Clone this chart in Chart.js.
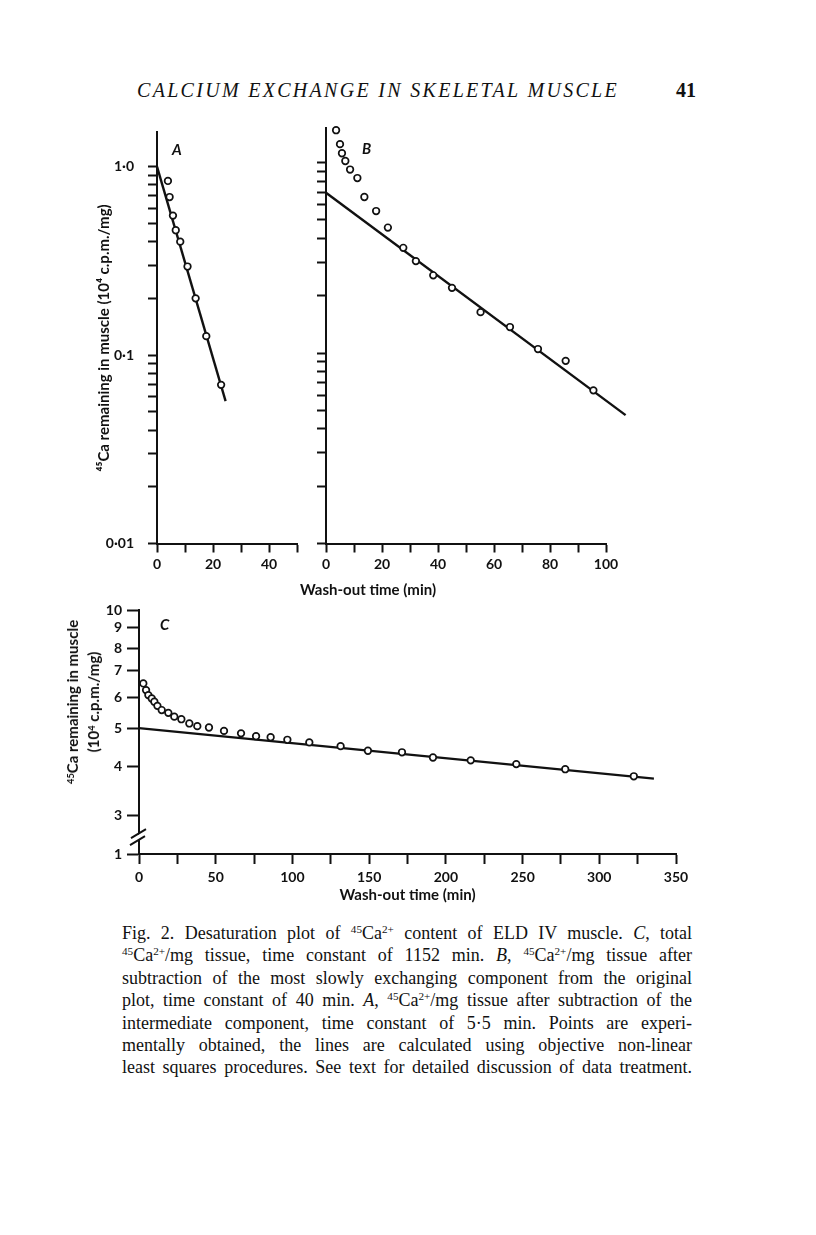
<!DOCTYPE html>
<html>
<head>
<meta charset="utf-8">
<title>Fig. 2 – Desaturation of 45Ca from ELD IV muscle</title>
<script src="https://cdn.jsdelivr.net/npm/chart.js@4.4.1/dist/chart.umd.min.js"></script>
<style>
  body { margin: 0; background: #fff; }
  #page { position: relative; width: 816px; height: 1235px; overflow: hidden; background: #fff; color: #111; }
  #page canvas { position: absolute; }
  .sans { position: absolute; font-family: Lato, "Open Sans", sans-serif; font-weight: bold; color: #111; white-space: nowrap; }
  .panel { font-style: italic; font-size: 15px; }
  #ytitleC { left: 83px; top: 702px; font-size: 15px; line-height: 21px; text-align: center;
             transform: translate(-50%, -50%) rotate(-90deg); }
  #ytitleC sup { font-size: 0.62em; vertical-align: 0.45em; line-height: 0; }
  #head { position: absolute; left: 137px; top: 79px; font-family: "Liberation Serif", serif; font-style: italic; font-size: 20px; letter-spacing: 2.3px; color: #111; white-space: nowrap; }
  #folio { position: absolute; left: 676px; top: 79px; font-family: "Liberation Serif", serif; font-weight: bold; font-size: 20px; color: #111; }
  #caption { position: absolute; left: 122px; top: 922px; width: 570px; font-family: "Liberation Serif", serif; font-size: 18px; line-height: 22.4px; color: #111; }
  #caption div { text-align: justify; text-align-last: justify; }
  #caption sup { font-size: 0.62em; vertical-align: 0.5em; line-height: 0; }
</style>
</head>
<body>
<div id="page">
  <div id="head">CALCIUM EXCHANGE IN SKELETAL MUSCLE</div>
  <div id="folio">41</div>

  <canvas id="chartA" width="250" height="480" style="left:60px; top:110px"></canvas>
  <canvas id="chartB" width="330" height="480" style="left:310px; top:110px"></canvas>
  <canvas id="chartC" width="690" height="320" style="left:20px; top:590px"></canvas>

  <span class="sans panel" style="left:172px; top:140px">A</span>
  <span class="sans panel" style="left:362px; top:139px">B</span>
  <span class="sans panel" style="left:160px; top:615px">C</span>
  <span class="sans" style="left:300px; top:580px; font-size:15px">Wash-out time (min)</span>
  <div class="sans" id="ytitleC"><sup>45</sup>Ca remaining in muscle<br>(10<sup>4</sup> c.p.m./mg)</div>

  <div id="caption">
    <div>Fig. 2. Desaturation plot of <sup>45</sup>Ca<sup>2+</sup> content of ELD IV muscle. <i>C</i>, total</div>
    <div><sup>45</sup>Ca<sup>2+</sup>/mg tissue, time constant of 1152 min. <i>B</i>, <sup>45</sup>Ca<sup>2+</sup>/mg tissue after</div>
    <div>subtraction of the most slowly exchanging component from the original</div>
    <div>plot, time constant of 40 min. <i>A</i>, <sup>45</sup>Ca<sup>2+</sup>/mg tissue after subtraction of the</div>
    <div>intermediate component, time constant of 5·5 min. Points are experi-</div>
    <div>mentally obtained, the lines are calculated using objective non-linear</div>
    <div>least squares procedures. See text for detailed discussion of data treatment.</div>
  </div>
</div>

<script>
// ─── Data ───────────────────────────────────────────────────────────────────

// A: fast component (10^4 c.p.m./mg) vs wash-out time (min)
const aTime  = [3.9, 4.5, 5.7, 6.7, 8.3, 10.9, 13.8, 17.6, 22.9];
const aCount = [0.84, 0.69, 0.55, 0.46, 0.40, 0.295, 0.20, 0.126, 0.0695];
const aFitTime  = [0, 24.5];
const aFitCount = [1.0, 0.057];

// B: intermediate component
const bTime  = [3.6, 5.0, 5.7, 6.9, 8.6, 11.2, 13.7, 17.9, 22.1, 27.6, 32.1, 38.3, 45.0, 55.2, 65.7, 75.7, 85.6, 95.5];
const bCount = [1.48, 1.25, 1.12, 1.02, 0.92, 0.83, 0.66, 0.557, 0.456, 0.357, 0.304, 0.256, 0.220, 0.164, 0.137, 0.105, 0.091, 0.0637];
const bFitTime  = [0, 107];
const bFitCount = [0.695, 0.0472];

// C: total 45Ca
const cTime  = [2.8, 4.6, 6.1, 8.3, 10, 12, 14.8, 19.1, 23, 27.6, 32.8, 38, 45.6, 55.4, 66.5, 76.3, 85.8, 96.7,
                111, 131.4, 149.2, 171.4, 191.6, 216.2, 245.9, 277.8, 322.5];
const cCount = [6.50, 6.25, 6.07, 5.95, 5.84, 5.70, 5.56, 5.47, 5.35, 5.27, 5.14, 5.06, 5.02, 4.92, 4.85, 4.77, 4.74, 4.67,
                4.60, 4.50, 4.38, 4.34, 4.21, 4.14, 4.05, 3.93, 3.77];
const cFitTime  = [0, 335.6];
const cFitCount = [5.0, 3.72];

// Axes
const abLogTicks = [0.01, 0.02, 0.03, 0.04, 0.05, 0.06, 0.07, 0.08, 0.09,
                    0.1, 0.2, 0.3, 0.4, 0.5, 0.6, 0.7, 0.8, 0.9, 1.0];
const abLogLabels = { 0.01: '0·01', 0.1: '0·1', 1: '1·0' };
const abYMax = 1.52;
const aXMax = 50, bXMax = 100, abXStep = 10, abXLabelEvery = 20;

const cYTicks = [3, 4, 5, 6, 7, 8, 9, 10];
const cYBreakMin = 2.39;      // bottom of the broken axis
const cYBreakLabel = '1';
const cXMax = 350, cXStep = 25, cXLabelEvery = 50;

const yTitleAB = '⁴⁵Ca remaining in muscle (10⁴ c.p.m./mg)';
const xTitleC  = 'Wash-out time (min)';

// ─── Helpers ─────────────────────────────────────────────────────────────────

const INK = '#111';
const FONT = 'Lato, "Open Sans", sans-serif';

const toXY = (xs, ys) => xs.map((x, i) => ({ x, y: ys[i] }));

function pointSet(xs, ys) {
  return {
    data: toXY(xs, ys),
    pointStyle: 'circle',
    pointRadius: 3.3,
    pointBorderWidth: 1.7,
    pointBorderColor: INK,
    pointBackgroundColor: '#fff',
    showLine: false,
    clip: false,
  };
}

function fitLine(xs, ys) {
  return {
    data: toXY(xs, ys),
    showLine: true,
    borderColor: INK,
    borderWidth: 2.4,
    pointRadius: 0,
    clip: false,
  };
}

function tickFont(size) { return { family: FONT, size, weight: 'bold' }; }

// axis break (//) on panel C
const axisBreak = {
  id: 'axisBreak',
  afterDraw(chart, args, opts) {
    if (!opts || opts.at == null) return;
    const ctx = chart.ctx;
    const x = chart.chartArea.left;
    const y = chart.scales.y.getPixelForValue(opts.at);
    ctx.save();
    ctx.fillStyle = '#fff';
    ctx.beginPath();
    ctx.moveTo(x - 6, y + 5); ctx.lineTo(x + 6, y - 3);
    ctx.lineTo(x + 6, y + 3); ctx.lineTo(x - 6, y + 11);
    ctx.closePath(); ctx.fill();
    ctx.strokeStyle = INK; ctx.lineWidth = 2;
    ctx.beginPath();
    ctx.moveTo(x - 8, y + 5);  ctx.lineTo(x + 7, y - 4);
    ctx.moveTo(x - 9, y + 12); ctx.lineTo(x + 6, y + 3);
    ctx.stroke();
    ctx.restore();
  }
};

function makePanel(id, cfg) {
  return new Chart(document.getElementById(id), {
    type: 'scatter',
    data: { datasets: cfg.datasets },
    plugins: [axisBreak],
    options: {
      responsive: false,
      animation: false,
      events: [],
      layout: { padding: cfg.padding },
      plugins: {
        legend: { display: false },
        tooltip: { enabled: false },
        axisBreak: cfg.axisBreak || {},
      },
      scales: {
        x: {
          type: 'linear',
          min: 0,
          max: cfg.xMax,
          afterFit: s => { s.height = cfg.xHeight; },
          afterBuildTicks: s => {
            const t = [];
            for (let v = 0; v <= cfg.xMax; v += cfg.xStep) t.push({ value: v });
            s.ticks = t;
          },
          ticks: {
            color: INK,
            font: tickFont(14),
            padding: cfg.xTickPad,
            autoSkip: false,
            maxRotation: 0,
            callback: v => (v % cfg.xLabelEvery === 0 ? String(v) : ''),
          },
          grid: { drawOnChartArea: false, tickLength: cfg.xTickLen, tickWidth: 2, tickColor: INK },
          border: { color: INK, width: 2 },
          title: cfg.xTitle || { display: false },
        },
        y: {
          type: 'logarithmic',
          min: cfg.yMin,
          max: cfg.yMax,
          afterFit: s => { s.width = cfg.yWidth; },
          afterBuildTicks: s => { s.ticks = cfg.yTicks.map(v => ({ value: v })); },
          ticks: {
            display: cfg.yLabels !== false,
            color: INK,
            font: tickFont(14),
            padding: cfg.yTickPad,
            autoSkip: false,
            callback: cfg.yLabel,
          },
          grid: { drawOnChartArea: false, tickLength: cfg.yTickLen, tickWidth: 2, tickColor: INK },
          border: { color: INK, width: 2 },
          title: cfg.yTitle || { display: false },
        },
      },
    },
  });
}

// ─── Panels ──────────────────────────────────────────────────────────────────

makePanel('chartA', {
  datasets: [pointSet(aTime, aCount), fitLine(aFitTime, aFitCount)],
  padding: { top: 18, right: 13, bottom: 0, left: 0 },
  xMax: aXMax, xStep: abXStep, xLabelEvery: abXLabelEvery,
  xHeight: 46.5, xTickLen: 9, xTickPad: 4,
  yMin: 0.01, yMax: abYMax, yTicks: abLogTicks,
  yWidth: 97, yTickLen: 9, yTickPad: 14,
  yLabel: v => abLogLabels[v] || '',
  yTitle: {
    display: true, text: yTitleAB, color: INK,
    font: { family: FONT, size: 15, weight: 'bold' },
    padding: { top: 35, bottom: 0 },
  },
});

makePanel('chartB', {
  datasets: [pointSet(bTime, bCount), fitLine(bFitTime, bFitCount)],
  padding: { top: 18, right: 34, bottom: 0, left: 0 },
  xMax: bXMax, xStep: abXStep, xLabelEvery: abXLabelEvery,
  xHeight: 46.5, xTickLen: 9, xTickPad: 4,
  yMin: 0.01, yMax: abYMax, yTicks: abLogTicks,
  yWidth: 16, yTickLen: 9, yTickPad: 4, yLabels: false,
  yLabel: () => '',
});

makePanel('chartC', {
  datasets: [pointSet(cTime, cCount), fitLine(cFitTime, cFitCount)],
  padding: { top: 20, right: 34, bottom: 0, left: 0 },
  xMax: cXMax, xStep: cXStep, xLabelEvery: cXLabelEvery,
  xHeight: 56, xTickLen: 10, xTickPad: 5,
  xTitle: {
    display: true, text: xTitleC, color: INK,
    font: { family: FONT, size: 15, weight: 'bold' },
    padding: { top: 4, bottom: 6 },
  },
  yMin: cYBreakMin, yMax: 10, yTicks: [cYBreakMin, ...cYTicks],
  yWidth: 119, yTickLen: 12, yTickPad: 5,
  yLabel: v => (v === cYBreakMin ? cYBreakLabel : String(v)),
  axisBreak: { at: 2.7 },
});
</script>
</body>
</html>
